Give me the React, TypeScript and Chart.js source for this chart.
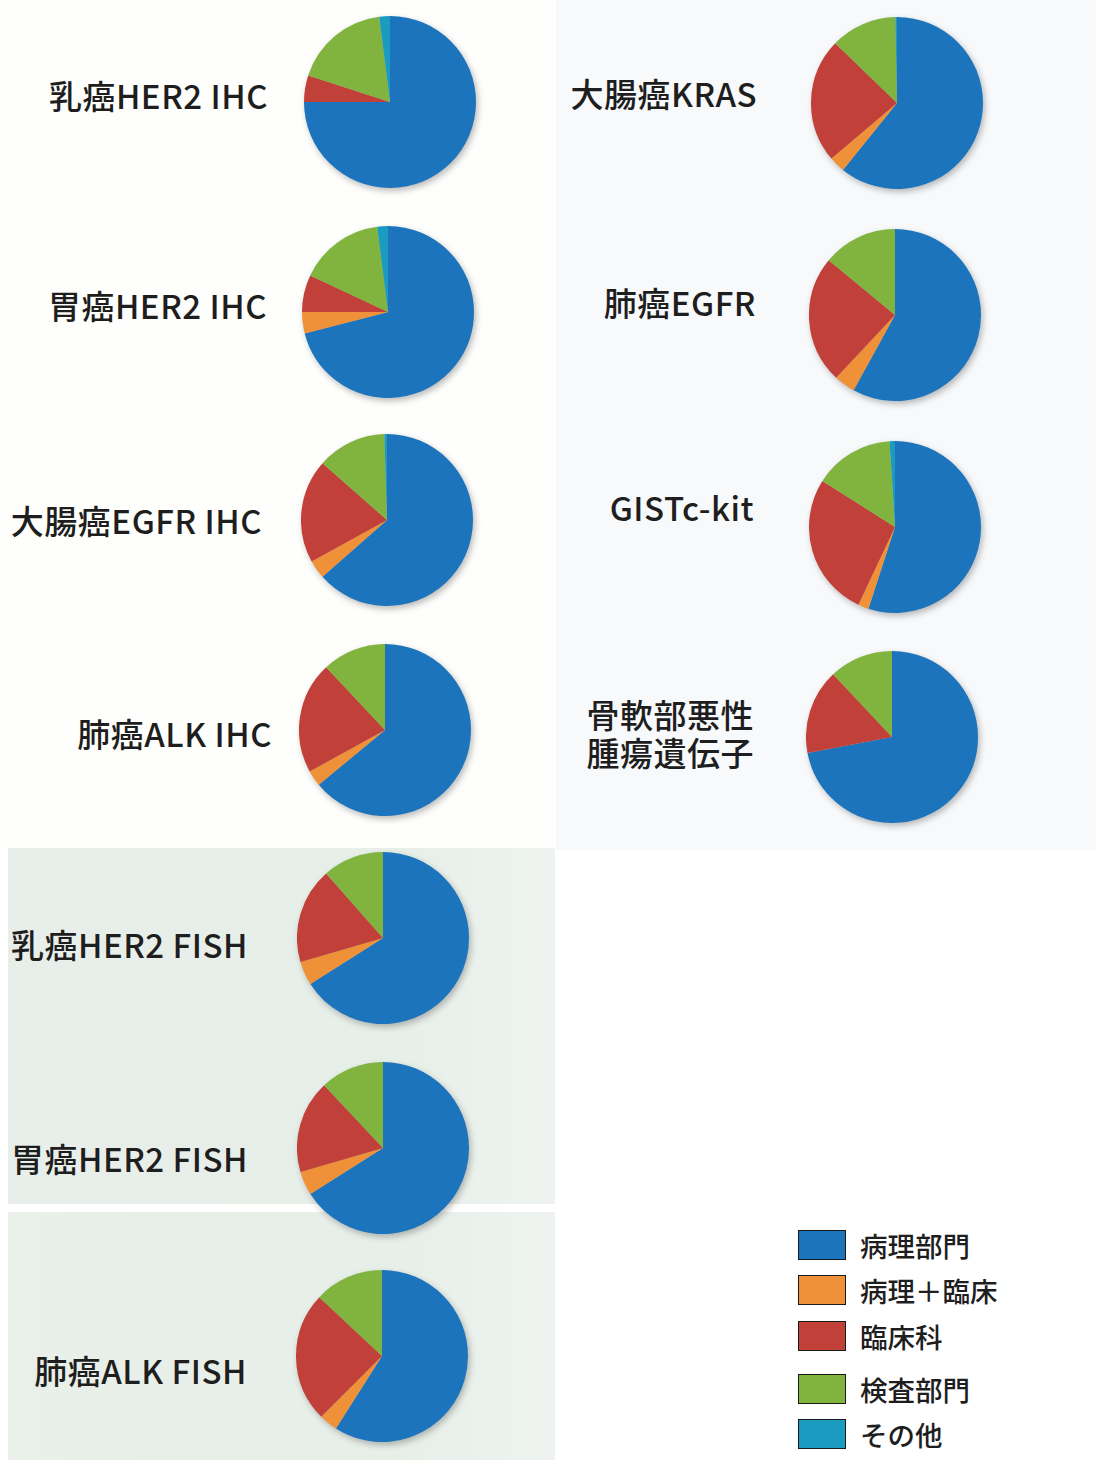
import React, { useEffect, useRef } from "react";
import { Chart, registerables } from "chart.js";

Chart.register(...registerables);

const categories = ["病理部門", "病理＋臨床", "臨床科", "検査部門", "その他"];
const colors = ["#1c74bd", "#ef9139", "#c2403a", "#80b43f", "#1b9bbf"];

const pieLabels = [
  "乳癌HER2 IHC",
  "胃癌HER2 IHC",
  "大腸癌EGFR IHC",
  "肺癌ALK IHC",
  "大腸癌KRAS",
  "肺癌EGFR",
  "GISTc-kit",
  "骨軟部悪性\n腫瘍遺伝子",
  "乳癌HER2 FISH",
  "胃癌HER2 FISH",
  "肺癌ALK FISH",
];

// values per pie: [病理部門, 病理+臨床, 臨床科, 検査部門, その他]
const breastHer2Ihc = [75, 0, 5, 18, 2];
const gastricHer2Ihc = [71, 4, 7, 16, 2];
const colonEgfrIhc = [63.5, 3.5, 19.5, 13, 0.5];
const lungAlkIhc = [64, 3, 21, 12, 0];
const colonKras = [61, 3, 23.5, 12.5, 0.3];
const lungEgfr = [58, 4, 24, 14, 0];
const gistCkit = [55, 2, 27, 15, 1];
const boneSoftTissue = [72, 0, 16, 12, 0];
const breastHer2Fish = [66, 4.5, 18, 11.5, 0];
const gastricHer2Fish = [66, 4.5, 17.5, 12, 0];
const lungAlkFish = [59, 3.5, 24.5, 13, 0];

const pieValues = [
  breastHer2Ihc,
  gastricHer2Ihc,
  colonEgfrIhc,
  lungAlkIhc,
  colonKras,
  lungEgfr,
  gistCkit,
  boneSoftTissue,
  breastHer2Fish,
  gastricHer2Fish,
  lungAlkFish,
];

type Layout = { cx: number; cy: number; right: number; ly: number };
const layouts: Layout[] = [
  { cx: 390, cy: 102, right: 268, ly: 95 },
  { cx: 388, cy: 312, right: 267, ly: 305 },
  { cx: 387, cy: 520, right: 262, ly: 520 },
  { cx: 385, cy: 730, right: 272, ly: 733 },
  { cx: 897, cy: 103, right: 757, ly: 93 },
  { cx: 895, cy: 315, right: 756, ly: 302 },
  { cx: 895, cy: 527, right: 754, ly: 507 },
  { cx: 892, cy: 737, right: 754, ly: 733 },
  { cx: 383, cy: 938, right: 248, ly: 944 },
  { cx: 383, cy: 1148, right: 248, ly: 1158 },
  { cx: 382, cy: 1356, right: 247, ly: 1370 },
];

const R = 86;
const FONT = "'Noto Sans CJK JP', 'Noto Sans', sans-serif";

function Pie({ values }: { values: number[] }) {
  const ref = useRef<HTMLCanvasElement | null>(null);
  useEffect(() => {
    if (!ref.current) return;
    const chart = new Chart(ref.current, {
      type: "pie",
      data: {
        labels: categories,
        datasets: [
          {
            data: values,
            backgroundColor: colors,
            borderWidth: 0,
            hoverOffset: 0,
            offset: 0,
          },
        ],
      },
      options: {
        animation: false,
        responsive: false,
        maintainAspectRatio: false,
        layout: { padding: 0 },
        plugins: { legend: { display: false }, tooltip: { enabled: false } },
        events: [],
      },
    });
    return () => chart.destroy();
  }, [values]);
  return (
    <canvas
      ref={ref}
      width={2 * R}
      height={2 * R}
      style={{
        width: 2 * R,
        height: 2 * R,
        filter: "drop-shadow(2px 3px 3px rgba(60,60,60,0.35))",
      }}
    />
  );
}

export default function App() {
  return (
    <div
      style={{
        position: "absolute",
        left: 0,
        top: 0,
        width: 1096,
        height: 1460,
        background: "#ffffff",
        overflow: "hidden",
        fontFamily: FONT,
      }}
    >
      {/* background panels */}
      <div style={{ position: "absolute", left: 0, top: 0, width: 556, height: 848, background: "#fefefc" }} />
      <div style={{ position: "absolute", left: 556, top: 0, width: 540, height: 850, background: "#f7f9fb" }} />
      <div
        style={{
          position: "absolute",
          left: 8,
          top: 848,
          width: 547,
          height: 356,
          background: "linear-gradient(90deg, #e8eee9 0%, #e7efe9 70%, #eef3ef 100%)",
        }}
      />
      <div
        style={{
          position: "absolute",
          left: 8,
          top: 1212,
          width: 547,
          height: 248,
          background: "linear-gradient(90deg, #e9efe9 0%, #e7efe9 70%, #eef3ef 100%)",
        }}
      />

      {pieValues.map((vals, i) => {
        const L = layouts[i];
        const lines = pieLabels[i].split("\n");
        return (
          <React.Fragment key={i}>
            <div style={{ position: "absolute", left: L.cx - R, top: L.cy - R, width: 2 * R, height: 2 * R }}>
              <Pie values={vals} />
            </div>
            <div
              style={{
                position: "absolute",
                right: 1096 - L.right,
                top: L.ly - (lines.length * 38) / 2,
                fontSize: 33,
                lineHeight: "38px",
                color: "#1e1e1e",
                fontWeight: 500,
                textAlign: lines.length > 1 ? "center" : "right",
                whiteSpace: "nowrap",
                letterSpacing: 0.5,
              }}
            >
              {lines.map((t, j) => (
                <div key={j}>{t}</div>
              ))}
            </div>
          </React.Fragment>
        );
      })}

      {/* legend */}
      {categories.map((c, i) => {
        const tops = [1230, 1275, 1321, 1374, 1419];
        return (
          <React.Fragment key={c}>
            <div
              style={{
                position: "absolute",
                left: 798,
                top: tops[i],
                width: 48,
                height: 30,
                background: colors[i],
                border: "1.5px solid #1a1a1a",
                boxSizing: "border-box",
              }}
            />
            <div
              style={{
                position: "absolute",
                left: 860,
                top: tops[i] + 15 - 20,
                height: 40,
                lineHeight: "40px",
                fontSize: 27.5,
                color: "#1e1e1e",
                fontWeight: 500,
                whiteSpace: "nowrap",
              }}
            >
              {c}
            </div>
          </React.Fragment>
        );
      })}
    </div>
  );
}
